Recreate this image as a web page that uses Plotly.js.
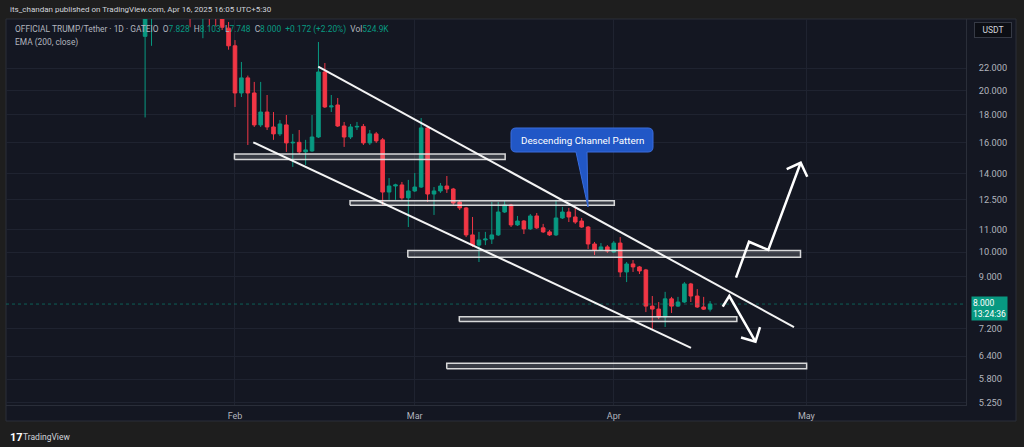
<!DOCTYPE html>
<html><head><meta charset="utf-8">
<script src="https://cdn.plot.ly/plotly-3.0.1.min.js"></script>
<style>html,body{margin:0;padding:0;background:#1e1e1e;overflow:hidden;}#chart{width:1024px;height:447px;}</style>
</head><body><div id="chart"></div>
<script>
// ---------- DATA ----------
const dates = [
'2025-01-18','2025-01-19','2025-01-20','2025-01-21','2025-01-22','2025-01-23','2025-01-24','2025-01-25','2025-01-26','2025-01-27','2025-01-28','2025-01-29','2025-01-30','2025-01-31',
'2025-02-01','2025-02-02','2025-02-03','2025-02-04','2025-02-05','2025-02-06','2025-02-07','2025-02-08','2025-02-09','2025-02-10','2025-02-11','2025-02-12','2025-02-13','2025-02-14','2025-02-15','2025-02-16','2025-02-17','2025-02-18','2025-02-19','2025-02-20','2025-02-21','2025-02-22','2025-02-23','2025-02-24','2025-02-25','2025-02-26','2025-02-27','2025-02-28',
'2025-03-01','2025-03-02','2025-03-03','2025-03-04','2025-03-05','2025-03-06','2025-03-07','2025-03-08','2025-03-09','2025-03-10','2025-03-11','2025-03-12','2025-03-13','2025-03-14','2025-03-15','2025-03-16','2025-03-17','2025-03-18','2025-03-19','2025-03-20','2025-03-21','2025-03-22','2025-03-23','2025-03-24','2025-03-25','2025-03-26','2025-03-27','2025-03-28','2025-03-29','2025-03-30','2025-03-31',
'2025-04-01','2025-04-02','2025-04-03','2025-04-04','2025-04-05','2025-04-06','2025-04-07','2025-04-08','2025-04-09','2025-04-10','2025-04-11','2025-04-12','2025-04-13','2025-04-14','2025-04-15','2025-04-16'];

const openP = [
25.2,30,55,38,45,40,37,33,30,29,31,28.5,27.6,26.1,
24.2,19.77,21.09,19.77,17.24,18.22,17.09,16.59,17.24,15.96,16.0,15.36,15.42,16.37,21.63,18.62,18.78,17.16,16.37,17.09,17.13,15.96,16.59,16.17,12.93,13.27,13.33,12.61,
12.99,13.21,17.02,12.82,12.99,13.27,13.10,12.39,12.08,10.76,10.30,10.53,10.57,10.76,11.87,12.23,11.23,11.42,11.04,11.67,11.09,10.90,10.76,11.57,11.87,11.62,11.42,11.13,10.35,10.09,10.22,
10.00,10.39,9.18,9.50,9.38,9.26,7.93,7.83,7.57,8.18,7.93,8.07,8.72,8.28,7.90,7.828];

const highP = [
50,73,60,48,47,43,40,35,31,33,33,29.5,28.5,26.8,
24.8,22.58,21.3,20.73,20.73,19.60,18.22,17.61,17.99,16.59,16.87,16.17,17.99,24.60,22.48,19.60,19.35,17.46,17.31,17.46,17.31,16.87,16.73,16.30,13.73,13.40,13.50,13.62,
14.03,17.76,17.16,13.21,13.44,13.85,13.16,12.50,12.13,11.62,10.90,10.90,12.39,12.39,12.44,12.29,11.67,11.47,11.77,11.82,11.28,10.99,12.50,12.13,12.08,12.08,11.57,11.18,10.44,10.39,10.30,
10.48,10.66,9.58,9.66,9.42,9.30,8.28,8.07,8.43,8.25,8.25,8.79,8.76,8.53,8.25,8.103];

const lowP = [
17.8,24.2,30,34,37,34,31,26.2,28,25.0,26.3,26.3,25.9,23.8,
18.62,19.43,15.82,17.09,17.09,16.87,16.17,16.44,15.36,14.40,15.22,14.52,15.36,16.30,18.54,18.22,17.09,15.69,16.23,16.87,15.82,15.82,15.96,12.23,12.50,12.50,12.50,11.13,
12.93,13.16,12.39,11.72,12.88,12.88,12.23,11.97,10.66,10.22,9.58,10.30,10.35,10.71,11.82,11.13,11.18,10.80,10.99,11.04,10.85,10.71,10.71,11.52,11.37,11.28,11.09,10.13,9.87,10.04,9.96,
9.96,8.98,8.79,9.18,9.10,7.73,7.19,7.50,7.25,7.70,7.90,8.04,8.07,7.87,7.80,7.748];

const closeP = [
45,55,38,45,40,37,33,30,29,31,28.5,27.6,26.2,24.2,
19.77,21.09,19.77,17.24,18.22,17.09,16.59,17.31,15.96,16.0,15.36,15.49,16.37,21.63,18.62,18.70,17.16,16.37,17.09,17.13,15.96,16.59,16.10,12.93,13.27,13.33,12.61,12.99,
13.21,17.02,12.82,12.99,13.27,13.10,12.34,12.08,10.76,10.30,10.53,10.57,10.76,11.87,12.23,11.23,11.42,11.04,11.67,11.09,10.90,10.76,11.57,11.87,11.62,11.37,11.13,10.35,10.09,10.22,10.04,
10.39,9.18,9.50,9.38,9.22,7.93,7.83,7.57,8.18,7.93,8.07,8.72,8.28,7.90,7.828,8.000];

const volumeText = '524.9K';
const clockText = '13:24:36';

const monthTicks = ['2025-02-01','2025-03-01','2025-04-01','2025-05-01'];
const monthLabels = ['Feb','Mar','Apr','May'];
const priceTicks = [5.25,5.8,6.4,7.2,9,10,11,12.5,14,16,18,20,22];

// drawings (date, price)
const channelUpperX = ['2025-02-13 23:15','2025-04-29 01:40'];
const channelUpperY = [22.13, 7.25];
const channelLowerX = ['2025-02-03 20:20','2025-04-13 00:45'];
const channelLowerY = [16.0, 6.63];

const levelStart = ['2025-01-31 22:00','2025-02-18 22:00','2025-02-27 22:00','2025-03-07 22:30','2025-03-05 23:30'];
const levelEnd   = ['2025-03-15 02:00','2025-04-01 02:00','2025-04-30 02:00','2025-04-20 04:00','2025-05-01 01:00'];
const levelLow   = [14.87, 12.22, 9.78, 7.42, 6.06];
const levelHigh  = [15.22, 12.46, 10.06, 7.58, 6.21];

const upArrowX = ['2025-04-20 01:00','2025-04-22 01:30','2025-04-25 01:40','2025-04-30 02:40'];
const upArrowY = [8.96, 10.45, 10.09, 14.66];
const upHeadX  = ['2025-04-27 22:20','2025-04-30 02:40','2025-05-01 03:20'];
const upHeadY  = [14.27, 14.66, 13.81];
const downArrowX = ['2025-04-17 23:15','2025-04-18 23:45','2025-04-23 01:40'];
const downArrowY = [7.91, 8.28, 6.81];
const downHeadX  = ['2025-04-20 19:40','2025-04-23 01:40','2025-04-23 18:40'];
const downHeadY  = [6.93, 6.81, 7.25];

// ---------- STYLE / LAYOUT ----------
const UP = '#089981', DN = '#f23645';
const BG = '#141722', FRAME = '#1e1e1e', GRID = '#1f2330', TXT = '#b2b5be';
const FONT = 'Roboto, "Open Sans", sans-serif';
const ML = 6, MT = 19, PW = 960, PH = 386;
const px = v => (v - ML) / PW;
const py = v => (MT + PH - v) / PH;
const xRange = ['2024-12-27 08:00', '2025-05-25 20:40'];

const n = closeP.length;
const lastC = closeP[n-1], prevC = closeP[n-2];
const chg = lastC - prevC, pct = chg / prevC * 100;
const g = s => '<span style="color:' + UP + '">' + s + '</span>';
const sp = '\u00a0\u00a0';

const traces = [];
traces.push({
  type: 'candlestick', x: dates, open: openP, high: highP, low: lowP, close: closeP,
  increasing: {line: {color: UP, width: 1}, fillcolor: UP},
  decreasing: {line: {color: DN, width: 1}, fillcolor: DN},
  whiskerwidth: 0, hoverinfo: 'skip'
});
// current price dotted line
traces.push({type:'scatter', mode:'lines', x: xRange, y:[lastC,lastC],
  line:{color:'rgba(8,153,129,0.55)', width:1, dash:'dot'}, hoverinfo:'skip'});
// level rectangles
for (let i = 0; i < levelStart.length; i++) {
  traces.push({type:'scatter', mode:'lines',
    x:[levelStart[i], levelEnd[i], levelEnd[i], levelStart[i], levelStart[i]],
    y:[levelLow[i], levelLow[i], levelHigh[i], levelHigh[i], levelLow[i]],
    fill:'toself', fillcolor:'rgba(255,255,255,0.16)',
    line:{color:'rgba(235,235,235,0.9)', width:1.5}, hoverinfo:'skip'});
}
const lineSty = {color:'rgba(255,255,255,0.95)', width:2};
traces.push({type:'scatter', mode:'lines', x:channelUpperX, y:channelUpperY, line:lineSty, hoverinfo:'skip'});
traces.push({type:'scatter', mode:'lines', x:channelLowerX, y:channelLowerY, line:lineSty, hoverinfo:'skip'});
const arrowSty = {color:'#ffffff', width:2.5};
traces.push({type:'scatter', mode:'lines', x:upArrowX, y:upArrowY, line:arrowSty, hoverinfo:'skip'});
traces.push({type:'scatter', mode:'lines', x:upHeadX, y:upHeadY, line:arrowSty, hoverinfo:'skip'});
traces.push({type:'scatter', mode:'lines', x:downArrowX, y:downArrowY, line:arrowSty, hoverinfo:'skip'});
traces.push({type:'scatter', mode:'lines', x:downHeadX, y:downHeadY, line:arrowSty, hoverinfo:'skip'});

// callout bubble path (paper coords)
const P = (a, b) => px(a).toFixed(5) + ',' + py(b).toFixed(5);
const cL = 511, cR = 653, cT = 128, cB = 152, r = 5;
const calloutPath = 'M' + P(cL+r,cT) + ' L' + P(cR-r,cT) + ' Q' + P(cR,cT) + ' ' + P(cR,cT+r) +
  ' L' + P(cR,cB-r) + ' Q' + P(cR,cB) + ' ' + P(cR-r,cB) + ' L' + P(587,cB) + ' L' + P(588,207) +
  ' L' + P(576,cB) + ' L' + P(cL+r,cB) + ' Q' + P(cL,cB) + ' ' + P(cL,cB-r) + ' L' + P(cL,cT+r) +
  ' Q' + P(cL,cT) + ' ' + P(cL+r,cT) + ' Z';

const layout = {
  width: 1024, height: 447,
  margin: {l: ML, r: 1024 - ML - PW, t: MT, b: 447 - MT - PH, pad: 0},
  paper_bgcolor: FRAME, plot_bgcolor: BG,
  font: {family: FONT, size: 9.5, color: TXT},
  showlegend: false, hovermode: false, boxgap: 0.2,
  xaxis: {type:'date', range: xRange, tickmode:'array', tickvals: monthTicks, ticktext: monthLabels,
    showgrid:true, gridcolor: GRID, zeroline:false, showline:true, linecolor:'#2a2e39', linewidth:1,
    ticks:'', rangeslider:{visible:false}, fixedrange:true, ticklabelstandoff: 2,
    tickfont:{family: FONT, size:9, color: TXT}},
  yaxis: {type:'log', side:'right', range:[0.7152, 1.4337], tickmode:'array', tickvals: priceTicks,
    ticktext: priceTicks.map(v => v.toFixed(3)), showgrid:true, gridcolor: GRID, zeroline:false,
    showline:true, linecolor:'#2a2e39', linewidth:1, ticks:'', ticklabelstandoff: 10, fixedrange:true,
    tickfont:{family: FONT, size:9.2, color: TXT}},
  shapes: [
    {type:'rect', xref:'paper', yref:'paper', x0: px(6), x1: px(1016), y0: py(421), y1: py(19),
      fillcolor: BG, line:{color:'#2a2e39', width:1}, layer:'below'},
    {type:'path', xref:'paper', yref:'paper', path: calloutPath, fillcolor:'#2157c6',
      line:{color:'#3a6ddc', width:1}, layer:'above'}
  ],
  annotations: [
    {xref:'paper', yref:'paper', x: px(8), y: py(10), xanchor:'left', yanchor:'middle', showarrow:false,
      text:'its_chandan published on TradingView.com, Apr 16, 2025 16:05 UTC+5:30',
      font:{family: FONT, size: 8, color:'#d1d4dc'}},
    {xref:'paper', yref:'paper', x: px(13), y: py(30), xanchor:'left', yanchor:'middle', showarrow:false,
      text:'OFFICIAL TRUMP/Tether · 1D · GATEIO' + sp + 'O' + g(openP[n-1].toFixed(3)) + sp + 'H' + g(highP[n-1].toFixed(3)) +
        sp + 'L' + g(lowP[n-1].toFixed(3)) + sp + 'C' + g(lastC.toFixed(3)) + sp +
        g((chg >= 0 ? '+' : '') + chg.toFixed(3) + ' (' + (pct >= 0 ? '+' : '') + pct.toFixed(2) + '%)') + sp + 'Vol' + g(volumeText),
      font:{family: FONT, size: 8.4, color: TXT}},
    {xref:'paper', yref:'paper', x: px(13), y: py(42), xanchor:'left', yanchor:'middle', showarrow:false,
      text:'EMA (200, close)', font:{family: FONT, size: 8.4, color: TXT}},
    {xref:'paper', yref:'paper', x: px(993), y: py(30), xanchor:'center', yanchor:'middle', showarrow:false,
      text:'USDT', width: 36, height: 14, bgcolor:'#0c0e14', bordercolor:'#363a45', borderwidth:1, borderpad:0,
      font:{family: FONT, size: 8.5, color:'#d1d4dc'}},
    {xref:'paper', yref:'y', x: px(971), y: Math.log10(lastC), xanchor:'left', yanchor:'middle', yshift:-4,
      showarrow:false, align:'left', text: lastC.toFixed(3) + '<br>' + clockText, bgcolor: UP, borderpad:1,
      font:{family: FONT, size: 8.5, color:'#ffffff'}},
    {xref:'paper', yref:'paper', x: px(582), y: py(140), xanchor:'center', yanchor:'middle', showarrow:false,
      text:'Descending Channel Pattern', font:{family: FONT, size: 9.8, color:'#ffffff'}},
    {xref:'paper', yref:'paper', x: px(8), y: py(437), xanchor:'left', yanchor:'middle', showarrow:false,
      text:'<b>17</b>', font:{family: FONT, size: 11, color:'#ffffff'}},
    {xref:'paper', yref:'paper', x: px(21), y: py(437), xanchor:'left', yanchor:'middle', showarrow:false,
      text:'TradingView', font:{family: FONT, size: 8.5, color:'#d1d4dc'}}
  ]
};

Plotly.newPlot('chart', traces, layout, {staticPlot: true, displayModeBar: false});
</script>
</body></html>
